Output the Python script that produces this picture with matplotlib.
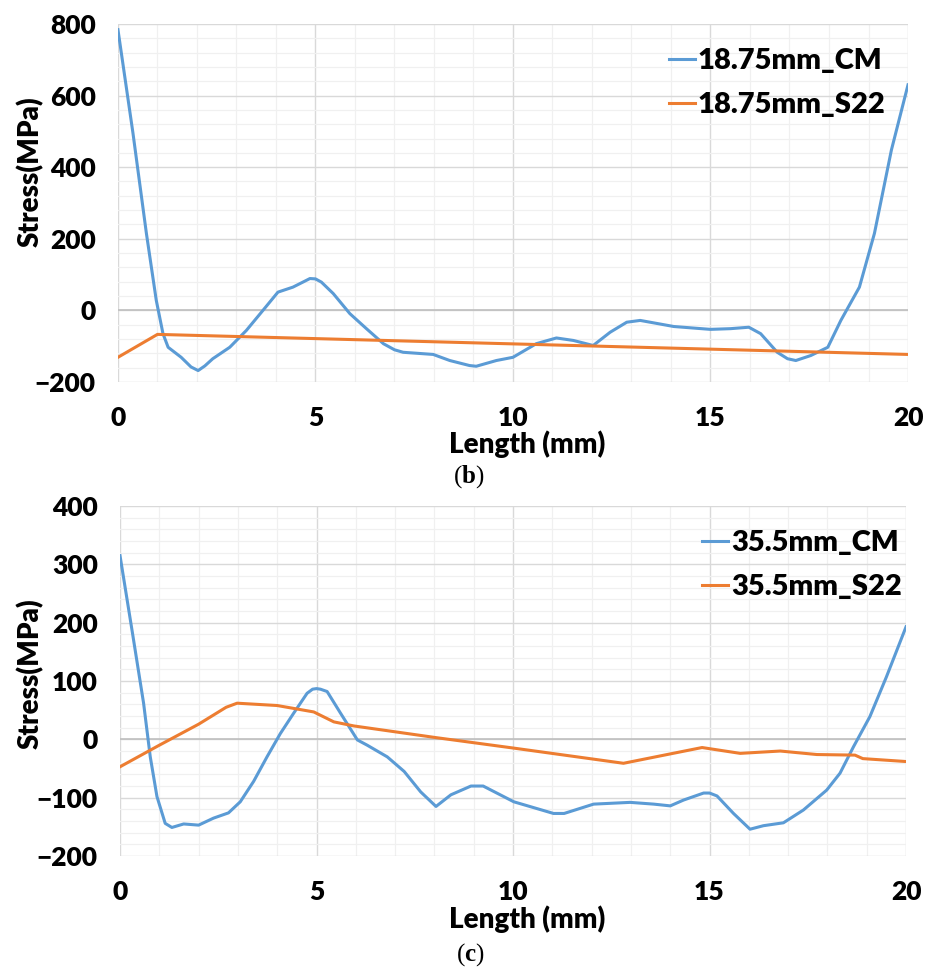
import numpy as np
import matplotlib
matplotlib.use("Agg")
import matplotlib.pyplot as plt

plt.rcParams['font.family'] = ['Lato', 'DejaVu Sans']
plt.rcParams['font.weight'] = 'heavy'
plt.rcParams['mathtext.fontset'] = 'custom'
plt.rcParams['mathtext.rm'] = 'Liberation Serif'
plt.rcParams['mathtext.bf'] = 'Liberation Serif:bold'

# (b) 18.75 mm
x_cm_b = [0, 0.38, 0.72, 0.97, 1.14, 1.27, 1.6, 1.85, 2.03, 2.2, 2.4, 2.83, 3.25, 3.67, 4.05, 4.43,
          4.7, 4.86, 5.0, 5.15, 5.45, 5.87, 6.29, 6.72, 7.0, 7.22, 7.98, 8.4, 8.9, 9.07, 9.58, 10.0,
          10.59, 11.1, 11.53, 12.03, 12.46, 12.88, 13.22, 14.07, 15.0, 15.51, 15.97,
          16.27, 16.69, 16.95, 17.16, 17.54, 17.97, 18.3, 18.77, 19.15, 19.58, 20.0]
y_cm_b = [784, 495, 215, 28, -65, -103, -131, -158, -168, -155, -135, -103, -56, 0, 51, 65,
          80, 89, 88, 79, 47, -9, -51, -93, -110, -117, -123, -140, -154, -156, -140, -131,
          -93, -77, -84, -98, -61, -33, -28, -45, -53, -51, -47,
          -65, -117, -135, -140, -126, -103, -28, 65, 215, 448, 630]
x_s22_b = [0, 1.0, 20]
y_s22_b = [-131, -67, -123]

# (c) 35.5 mm
x_cm_c = [0, 0.32, 0.6, 0.77, 0.94, 1.15, 1.32, 1.62, 2.0, 2.38, 2.76, 3.06, 3.4, 3.74,
          4.08, 4.42, 4.76, 4.9, 5.0, 5.1, 5.27, 5.61, 6.04, 6.29, 6.8, 7.23, 7.65, 8.04, 8.42,
          8.93, 9.24, 10.02, 11.03, 11.3, 12.05, 12.98, 13.58, 14.0, 14.34, 14.85,
          15.0, 15.19, 15.61, 16.03, 16.37, 16.88, 17.39, 17.98, 18.32, 18.66, 19.08, 19.5, 20.0]
y_cm_c = [315, 181, 62, -30, -98, -144, -151, -145, -147, -135, -126, -107, -72, -30,
          10, 45, 79, 86, 87, 86, 82, 45, -1, -10, -30, -55, -90, -115, -95,
          -80, -80, -107, -127, -127, -111, -108, -111, -114, -104, -92,
          -92, -97, -127, -154, -148, -143, -121, -87, -58, -13, 39, 107, 193]
x_s22_c = [0, 1.0, 2.0, 2.7, 2.98, 4.0, 4.93, 5.44, 5.95, 8.04, 10.02, 12.81, 14.81,
           15.78, 16.8, 17.73, 18.7, 18.9, 20.0]
y_s22_c = [-47, -10, 26, 55, 62, 58, 47, 30, 23, 3, -15, -41, -14,
           -24, -20, -26, -27, -33, -38]

BLUE = '#5B9BD5'
ORANGE = '#ED7D31'

fig = plt.figure(figsize=(9.31, 9.74), dpi=100)
ax1 = fig.add_axes([0.1267, 0.6078, 0.8486, 0.3676])
ax2 = fig.add_axes([0.1289, 0.1211, 0.8443, 0.3594])


def style(ax, ylim, ystep, yminor):
    ax.set_xlim(0, 20)
    ax.set_ylim(*ylim)
    ax.set_xticks(np.arange(0, 21, 5))
    ax.set_xticks(np.arange(0, 21, 1), minor=True)
    ax.set_yticks(np.arange(ylim[0], ylim[1] + 1, ystep))
    ax.set_yticks(np.arange(ylim[0], ylim[1] + 1, yminor), minor=True)
    ax.set_yticklabels([str(v).replace('-', '\u2212') for v in np.arange(ylim[0], ylim[1] + 1, ystep)])
    ax.grid(which='major', color='#D9D9D9', lw=1.0, zorder=0)
    ax.grid(which='minor', color='#F0F0F0', lw=0.9, zorder=0)
    ax.set_axisbelow(True)
    ax.axhline(0, color='#BFBFBF', lw=1.2, zorder=1)
    for s in ax.spines.values():
        s.set_visible(False)
    ax.tick_params(which='both', length=0, labelsize=19)
    ax.tick_params(axis='x', pad=17)
    ax.tick_params(axis='y', pad=16)


style(ax1, (-200, 800), 200, 40)
ax1.plot(x_cm_b, y_cm_b, color=BLUE, lw=2.2, label='18.75mm_CM', zorder=3)
ax1.plot(x_s22_b, y_s22_b, color=ORANGE, lw=2.2, label='18.75mm_S22', zorder=3)
ax1.legend(loc='upper right', bbox_to_anchor=(1.005, 1.005), frameon=False, fontsize=21,
           handlelength=0.9, handletextpad=0.1, labelspacing=0.6)

style(ax2, (-200, 400), 100, 20)
ax2.plot(x_cm_c, y_cm_c, color=BLUE, lw=2.2, label='35.5mm_CM', zorder=3)
ax2.plot(x_s22_c, y_s22_c, color=ORANGE, lw=2.2, label='35.5mm_S22', zorder=3)
ax2.legend(loc='upper right', bbox_to_anchor=(1.028, 1.005), frameon=False, fontsize=21,
           handlelength=0.9, handletextpad=0.1, labelspacing=0.6)

fig.text(527 / 931, 1 - 444 / 974, 'Length (mm)', ha='center', va='center', fontsize=20)
fig.text(527 / 931, 1 - 919 / 974, 'Length (mm)', ha='center', va='center', fontsize=20)
fig.text(30 / 931, 1 - 172 / 974, 'Stress(MPa)', ha='center', va='center', rotation=90, fontsize=20)
fig.text(30 / 931, 1 - 674 / 974, 'Stress(MPa)', ha='center', va='center', rotation=90, fontsize=20)
fig.text(469 / 931, 1 - 477 / 974, '(' + r'$\mathbf{b}$' + ')', ha='center', va='center',
         fontsize=18, family='Liberation Serif', weight='normal')
fig.text(470 / 931, 1 - 955 / 974, '(' + r'$\mathbf{c}$' + ')', ha='center', va='center',
         fontsize=18, family='Liberation Serif', weight='normal')

fig.savefig('out.png', dpi=100)
